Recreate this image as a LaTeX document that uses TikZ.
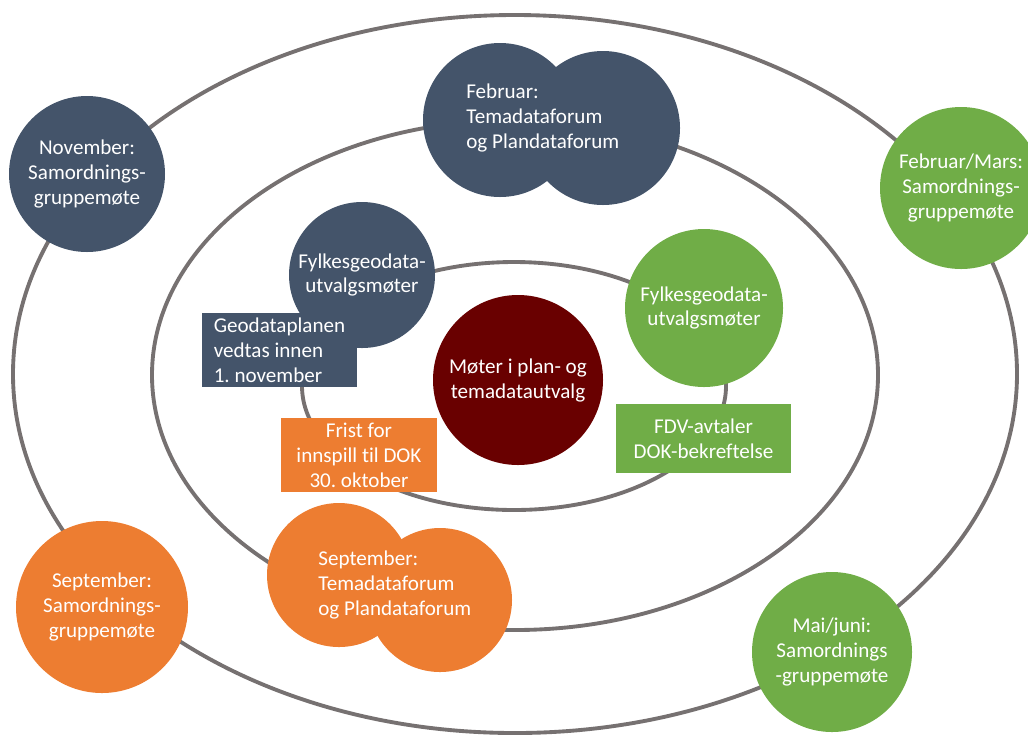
\documentclass[tikz,border=0pt]{standalone}
\usepackage{fontspec}
\setmainfont{Carlito}[Ligatures=NoCommon]
\usepackage{xcolor}
\usetikzlibrary{positioning}
\frenchspacing

\definecolor{dokblue}{HTML}{44546A}
\definecolor{dokgreen}{HTML}{70AD47}
\definecolor{dokorange}{HTML}{ED7D31}
\definecolor{dokred}{HTML}{690000}
\definecolor{orbitgray}{HTML}{767171}
\newcommand{\px}{0.2mm}

\tikzset{
orbit/.style = {draw=orbitgray, line width=2.2pt},
event/.style = {circle, fill=#1, inner sep=0pt, text=white,
  align=center, font=\fontsize{12}{14.2}\selectfont},
note/.style = {rectangle, fill=#1, inner sep=0pt, text=white,
  font=\fontsize{12}{14.2}\selectfont},
label/.style = {inner sep=0pt, text=white, align=left,
  font=\fontsize{12}{14.2}\selectfont}
}

\begin{document}
\begin{tikzpicture}[x=\px, y=-\px]
\useasboundingbox (0,0) rectangle (1028,735);

% orbits
\draw[orbit] (515,374) ellipse (502 and 359);
\draw[orbit] (515,375) ellipse (363 and 255);
\draw[orbit] (514,386) ellipse (212 and 124);

% outer orbit
\node[event=dokblue, minimum size=156*\px] (nov) at (87,174)
{November:\\Samordnings-\\gruppemøte};
\node[event=dokgreen, minimum size=162*\px] (febmars) at (961,188)
{Februar/Mars:\\Samordnings-\\gruppemøte};
\node[event=dokgreen, minimum size=160*\px] (maijuni) at (832,652)
{Mai/juni:\\Samordnings\\-gruppemøte};
\node[event=dokorange, minimum size=172*\px] (sepsam) at (102,607)
{September:\\Samordnings-\\gruppemøte};

% middle orbit
\node[event=dokblue, minimum size=154*\px] (febA) at (500,120) {};
\node[event=dokblue, minimum size=154*\px] (febB) at (603,128) {};
\node[label, anchor=west] (feb) at (466,118)
{Februar:\\Temadataforum\\og Plandataforum};
\node[event=dokorange, minimum size=144*\px] (sepA) at (339,575) {};
\node[event=dokorange, minimum size=144*\px] (sepB) at (440,600) {};
\node[label, anchor=west] (sep) at (318,585)
{September:\\Temadataforum\\og Plandataforum};

% inner orbit
\node[event=dokblue, minimum size=146*\px] (fylkblue) at (362,275)
{Fylkesgeodata-\\utvalgsmøter};
\node[event=dokgreen, minimum size=158*\px] (fylkgreen) at (704,308)
{Fylkesgeodata-\\utvalgsmøter};
\node[note=dokblue, minimum width=155*\px, minimum height=74*\px,
  align=left] (geoplan) at (279.5,350)
{Geodataplanen\\vedtas innen\\1. november};
\node[note=dokorange, minimum width=156*\px, minimum height=74*\px,
  align=center] (frist) at (359,455)
{Frist for\\innspill til DOK\\30. oktober};
\node[note=dokgreen, minimum width=175*\px, minimum height=69*\px,
  align=center] (fdv) at (703.5,438.5)
{FDV-avtaler\\DOK-bekreftelse};

% centre
\node[event=dokred, minimum size=170*\px] (moter) at (518,380)
{Møter i plan- og\\temadatautvalg};

\end{tikzpicture}
\end{document}
